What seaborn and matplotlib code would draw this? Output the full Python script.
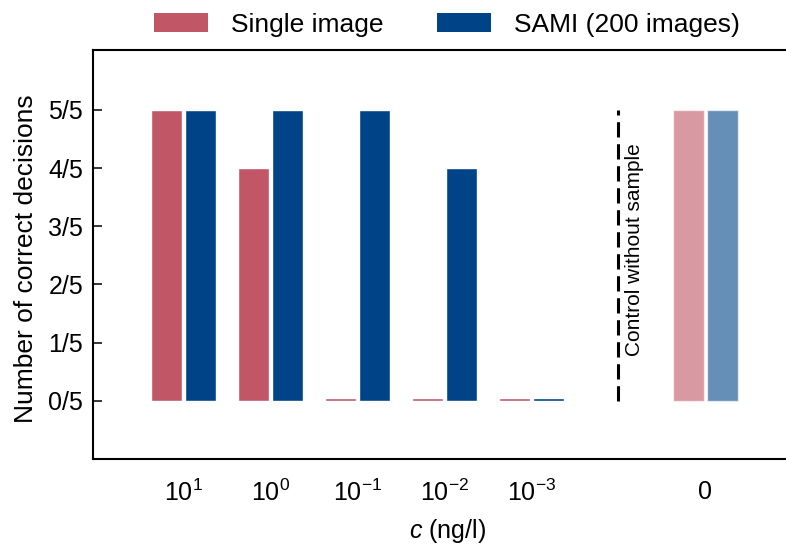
import numpy as np
import pandas as pd
import seaborn as sns
import matplotlib
matplotlib.use("Agg")
import matplotlib.pyplot as plt
from matplotlib.patches import Patch

# ---- data ----
concentrations = ["1e1", "1e0", "1e-1", "1e-2", "1e-3", "0"]
tick_labels = [r"$10^{1}$", r"$10^{0}$", r"$10^{-1}$", r"$10^{-2}$", r"$10^{-3}$", "0"]
single_image = [5, 4, 0, 0, 0, 5]
sami = [5, 5, 5, 4, 0, 5]
methods = ["Single image", "SAMI (200 images)"]
colors = ["#C05666", "#004488"]
ytick_labels = ["0/5", "1/5", "2/5", "3/5", "4/5", "5/5"]
control_label = "Control without sample"

sns.set_style("ticks")
plt.rcParams["font.family"] = ["Liberation Sans", "DejaVu Sans"]
plt.rcParams["mathtext.fontset"] = "custom"
plt.rcParams["mathtext.rm"] = "Liberation Sans"
plt.rcParams["mathtext.it"] = "Liberation Sans:italic"
plt.rcParams["mathtext.default"] = "regular"
for k in ["text.color", "axes.labelcolor", "xtick.color", "ytick.color", "axes.edgecolor"]:
    plt.rcParams[k] = "black"

rows = []
for c, s, m in zip(concentrations, single_image, sami):
    rows.append({"conc": c, "method": methods[0], "correct": s})
    rows.append({"conc": c, "method": methods[1], "correct": m})
df = pd.DataFrame(rows)
# zero results are drawn as a thin sliver so they remain visible
df["shown"] = df["correct"].clip(lower=0.05)

order = concentrations[:-1] + ["sep"] + concentrations[-1:]

fig = plt.figure(figsize=(7.86, 5.44), dpi=100)
ax = fig.add_axes([93 / 786, 85 / 544, 708 / 786, 409 / 544])

sns.barplot(data=df, x="conc", y="shown", hue="method", order=order,
            hue_order=methods, palette=colors, width=0.78, gap=0.08,
            errorbar=None, saturation=1, legend=False, ax=ax)

ctrl_pos = order.index("0")
sep_pos = order.index("sep")
for p in ax.patches:
    cx = p.get_x() + p.get_width() / 2
    if abs(cx - ctrl_pos) < 0.5:
        p.set_alpha(0.6)

ax.vlines(sep_pos, 0, 5, colors="black", linewidth=2.2,
          linestyles=(0, (5, 2.2)))
ax.text(sep_pos + 0.185, 2.6, control_label, rotation=90, ha="center",
        va="center", fontsize=15)

ax.set_xlim(-1.04, 7.1)
ax.set_ylim(-1, 6.03)

xpos = [i for i, o in enumerate(order) if o != "sep"]
ax.set_xticks(xpos)
ax.set_xticklabels(tick_labels, fontsize=18)
ax.set_yticks(range(6))
ax.set_yticklabels(ytick_labels, fontsize=18)
ax.tick_params(axis="x", length=0, pad=15)
ax.tick_params(axis="y", direction="in", length=6.5, width=1.1, pad=7)

for side in ["left", "bottom", "top"]:
    ax.spines[side].set_linewidth(1.5)
    ax.spines[side].set_color("black")
ax.spines["right"].set_visible(False)

ax.set_ylabel("Number of correct decisions", fontsize=19)
ax.yaxis.set_label_coords(-0.078, 0.489)
ax.set_xlabel(r"$\mathit{c}$ (ng/l)", fontsize=18)
ax.xaxis.set_label_coords(0.5, -0.143)

handles = [Patch(facecolor=c, edgecolor="none", label=m) for c, m in zip(colors, methods)]
ax.legend(handles=handles, loc="center", bbox_to_anchor=(0.5, 1.062), ncol=2,
          frameon=False, fontsize=19, handlelength=2.05, handleheight=0.72,
          handletextpad=0.87, columnspacing=2.05)

fig.savefig("out.png", dpi=100)
